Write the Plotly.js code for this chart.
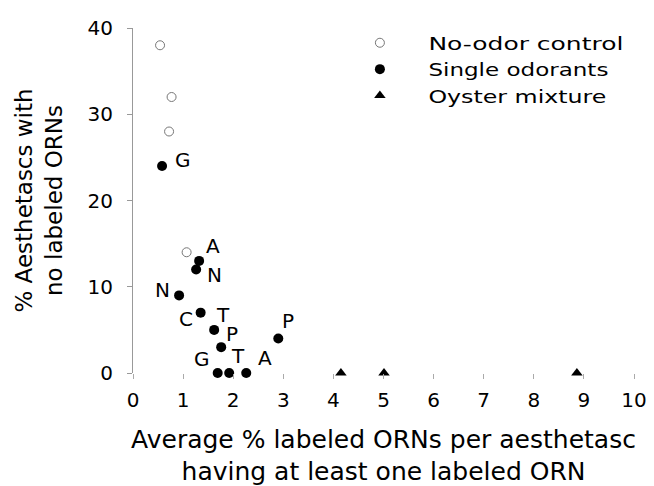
<!DOCTYPE html>
<html>
<head>
<meta charset="utf-8">
<script src="https://cdn.plot.ly/plotly-3.0.1.min.js"></script>
<style>html,body{margin:0;padding:0;background:#fff;}#chart{width:654px;height:486px;}</style>
</head>
<body>
<div id="chart"></div>
<script>
// No-odor control
var controlX = [0.54, 0.77, 0.72, 1.07];
var controlY = [38, 32, 28, 14];
// Single odorants
var singleX = [0.58, 1.32, 1.26, 0.92, 1.35, 1.62, 1.76, 2.90, 1.69, 1.92, 2.26];
var singleY = [24, 13, 12, 9, 7, 5, 3, 4, 0, 0, 0];
var singleLabels = ["G", "A", "N", "N", "C", "T", "P", "P", "G", "T", "A"];
// Oyster mixture
var oysterX = [4.15, 5.01, 8.86];
var oysterY = [0, 0, 0];
// Axis ticks
var xTicks = [0, 1, 2, 3, 4, 5, 6, 7, 8, 9, 10];
var yTicks = [0, 10, 20, 30, 40];

// label offsets (pixels) relative to each point (style only)
var labelDX = [21, 14, 18, -17, -15, 9, 11, 10, -16, 9, 19];
var labelDY = [6, 15, -5, 5, -6, 15, 13, 18, 14, 17, 15];
// legend text widths in pixels (style only)
var legendTextWidths = [195, 180, 178];

var font = "DejaVu Sans, Liberation Sans, Arial, sans-serif";

var traces = [
  {x: controlX, y: controlY, type: "scatter", mode: "markers", name: "No-odor control",
   marker: {symbol: "circle-open", size: 9, color: "#777", line: {width: 1, color: "#777"}}, cliponaxis: false},
  {x: singleX, y: singleY, type: "scatter", mode: "markers", name: "Single odorants",
   marker: {symbol: "circle", size: 10, color: "#000"}, cliponaxis: false},
  {x: oysterX, y: oysterY, type: "scatter", mode: "markers", name: "Oyster mixture",
   marker: {symbol: "triangle-up", size: 10, color: "#000"}, cliponaxis: false}
];

var annotations = singleLabels.map(function (t, i) {
  return {x: singleX[i], y: singleY[i], xref: "x", yref: "y", text: t, showarrow: false,
          xshift: labelDX[i], yshift: labelDY[i], font: {family: font, size: 20, color: "#000"}};
});

var layout = {
  width: 654, height: 486,
  margin: {l: 133, r: 20, t: 28, b: 113},
  paper_bgcolor: "#fff", plot_bgcolor: "#fff",
  showlegend: true,
  legend: {x: 0.396, y: 1.01, xanchor: "left", yanchor: "top", font: {family: font, size: 18, color: "#000"},
           bgcolor: "rgba(0,0,0,0)", itemwidth: 87, tracegroupgap: 0},
  xaxis: {range: [0, 10], tickvals: xTicks, showgrid: false, zeroline: false, showline: false,
          ticks: "outside", ticklen: 5, tickcolor: "#aaa", tickwidth: 1, ticklabelstandoff: 4,
          tickfont: {family: font, size: 20, color: "#000"},
          title: {text: "Average % labeled ORNs per aesthetasc<br>having at least one labeled ORN",
                  font: {family: font, size: 25, color: "#000"}, standoff: 24}},
  yaxis: {range: [0, 40], tickvals: yTicks, showgrid: false, zeroline: false, showline: true, linecolor: "#999", linewidth: 1,
          ticks: "outside", ticklen: 5, tickcolor: "#999", tickwidth: 1, ticklabelstandoff: 10,
          tickfont: {family: font, size: 20, color: "#000"},
          title: {text: "% Aesthetascs with<br>no labeled ORNs", font: {family: font, size: 23, color: "#000"}, standoff: 18}},
  annotations: annotations
};

var gd = document.getElementById("chart");
Plotly.newPlot(gd, traces, layout, {displayModeBar: false, staticPlot: true}).then(function () {
  gd.querySelectorAll(".legend [clip-path], .legend[clip-path]").forEach(function (el) {
    el.removeAttribute("clip-path");
  });
  var texts = gd.querySelectorAll(".legendtext");
  texts.forEach(function (t, i) {
    if (legendTextWidths[i]) {
      t.setAttribute("textLength", legendTextWidths[i]);
      t.setAttribute("lengthAdjust", "spacingAndGlyphs");
    }
  });
});
</script>
</body>
</html>
